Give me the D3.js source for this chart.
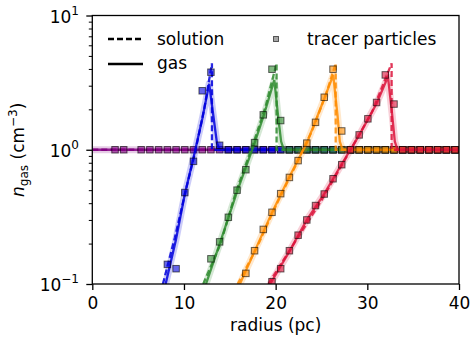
<!DOCTYPE html>
<html>
<head>
<meta charset="utf-8">
<script src="https://cdn.jsdelivr.net/npm/d3@7"></script>
<style>
  html, body { margin: 0; padding: 0; background: #fff; }
  svg { display: block; font-family: "DejaVu Sans", sans-serif; }
</style>
</head>
<body>
<svg id="chart" width="470" height="337"></svg>
<script>
// Initial radii of the tracer particles (pc)
const tracerRadius = [2.48, 3.43, 4.38, 5.33, 6.28, 7.24, 8.19, 9.14, 10.09, 11.04,
  11.99, 12.94, 13.89, 14.84, 15.79, 16.75, 17.70, 18.65, 19.60, 20.55,
  21.50, 22.45, 23.40, 24.35, 25.30, 26.26, 27.21, 28.16, 29.11, 30.06,
  31.01, 31.96, 32.91, 33.86, 34.81, 35.77, 36.72, 37.67, 38.62, 39.57];

// Tracer densities per snapshot (cm^-3), null = no particle shown
const tracerT0 = [1, 1, null, 1, 1, 1, 1, 1, 1, 1, 1, 1, 1, 1, 1, 1, 1, 1, 1, 1,
  1, 1, 1, 1, 1, 1, 1, 1, 1, 1, 1, 1, 1, 1, 1, 1, 1, 1, 1, 1];
const tracerT1 = [null, null, null, null, null, null, 0.14, 0.13, 0.48, 0.82,
  2.75, 3.78, 1.08, 1, 1, 1, 1, 1, 1, 1, 1, 1, 1, 1, 1, 1, 1, 1, 1, 1,
  1, 1, 1, 1, 1, 1, 1, 1, 1, 1];
const tracerT2 = [null, null, null, null, null, null, null, null, null, null,
  null, 0.154, 0.206, 0.314, 0.50, 0.71, 1.13, 1.82, 3.98, 1.65,
  1, 1, 1, 1, 1, 1, 1, 1, 1, 1, 1, 1, 1, 1, 1, 1, 1, 1, 1, 1];
const tracerT3 = [null, null, null, null, null, null, null, null, null, null,
  null, null, null, null, null, 0.12, 0.177, 0.255, 0.342, 0.471,
  0.622, 0.83, 1.12, 1.6, 2.46, 3.98, 1.38, 1, 1, 1, 1, 1, 1, 1, 1, 1, 1, 1, 1, 1];
const tracerT4 = [null, null, null, null, null, null, null, null, null, null,
  null, null, null, null, null, null, null, null, 0.104, 0.13,
  0.177, 0.231, 0.30, 0.384, 0.468, 0.608, 0.774, 1.0, 1.29, 1.70,
  2.25, 3.61, 2.19, 1, 1, 1, 1, 1, 1, 1];

// Analytic solution profiles [radius, density]
const solutionT0 = [[0, 1], [40, 1]];
const solutionT1 = [[7.7, 0.1], [9.0, 0.22], [10.2, 0.5], [11.2, 0.95], [12.2, 2.0], [13.05, 4.4], [13.05, 1], [40, 1]];
const solutionT2 = [[12.1, 0.1], [14.0, 0.2], [15.6, 0.47], [17.5, 1.08], [18.9, 2.1], [20.1, 4.4], [20.1, 1], [40, 1]];
const solutionT3 = [[15.86, 0.1], [18.0, 0.19], [20.0, 0.38], [22.0, 0.72], [24.0, 1.4], [25.5, 2.6], [26.55, 4.4], [26.55, 1], [40, 1]];
const solutionT4 = [[19.2, 0.1], [22.0, 0.2], [25.0, 0.42], [28.0, 0.95], [30.5, 1.9], [32.65, 4.4], [32.65, 1], [40, 1]];

// Simulated gas profiles [radius, density]
const gasT0 = [[0, 1], [40, 1]];
const gasT1 = [[8.0, 0.1], [9.1, 0.21], [10.1, 0.47], [11.0, 0.85], [12.0, 1.7], [12.75, 3.1], [13.2, 1.8], [13.6, 1.12], [13.9, 1.0], [40, 1]];
const gasT2 = [[12.4, 0.1], [13.9, 0.2], [15.8, 0.49], [17.7, 1.12], [18.7, 1.8], [19.85, 3.3], [20.3, 1.7], [20.6, 1.15], [20.9, 1.0], [40, 1]];
const gasT3 = [[16.1, 0.1], [17.7, 0.175], [19.6, 0.34], [21.5, 0.63], [23.4, 1.12], [25.3, 2.4], [26.28, 3.6], [26.75, 1.8], [27.0, 1.15], [27.3, 1.0], [40, 1]];
const gasT4 = [[19.4, 0.1], [21.5, 0.175], [23.4, 0.30], [25.3, 0.47], [27.15, 0.77], [29.1, 1.28], [31.0, 2.2], [32.25, 3.5], [32.7, 1.85], [33.0, 1.15], [33.3, 1.0], [40, 1]];

const seriesColors = ["#800080", "#0000dd", "#2e8b2e", "#ff8c00", "#dc143c"];
const xTicks = [0, 10, 20, 30, 40];
const yTicks = [0.1, 1, 10];
const yTickExponents = ["\u22121", "0", "1"];
const yMinorTicks = [0.2, 0.3, 0.4, 0.5, 0.6, 0.7, 0.8, 0.9, 2, 3, 4, 5, 6, 7, 8, 9];
const legendLabels = ["solution", "gas", "tracer particles"];
const xLabel = "radius (pc)";

const solutions = [solutionT0, solutionT1, solutionT2, solutionT3, solutionT4];
const gases = [gasT0, gasT1, gasT2, gasT3, gasT4];
const tracers = [tracerT0, tracerT1, tracerT2, tracerT3, tracerT4];

const svg = d3.select("#chart");
const plotLeft = 92.3, plotRight = 459, plotTop = 15.5, plotBottom = 284;
const fontSize = 17;
const supSize = 12;
const dash = "6,3";

const x = d3.scaleLinear().domain([0, 40]).range([plotLeft, plotRight]);
const y = d3.scaleLog().domain([0.1, 10]).range([plotBottom, plotTop]);

svg.append("defs").append("clipPath").attr("id", "plotClip")
  .append("rect").attr("x", plotLeft).attr("y", plotTop)
  .attr("width", plotRight - plotLeft).attr("height", plotBottom - plotTop);

const plot = svg.append("g").attr("clip-path", "url(#plotClip)");
const line = d3.line().x(d => x(d[0])).y(d => y(d[1]));

seriesColors.forEach((color, i) => {
  const g = plot.append("g");
  // uncertainty band around the gas profile
  g.append("path").attr("d", line(gases[i]))
    .attr("fill", "none").attr("stroke", color)
    .attr("stroke-width", 7).attr("stroke-opacity", 0.2)
    .attr("stroke-linejoin", "round");
  g.append("path").attr("d", line(gases[i]))
    .attr("fill", "none").attr("stroke", color)
    .attr("stroke-width", 2.3).attr("stroke-opacity", 0.85);
  g.append("path").attr("d", line(solutions[i]))
    .attr("fill", "none").attr("stroke", color)
    .attr("stroke-width", 2.3).attr("stroke-opacity", 0.85)
    .attr("stroke-dasharray", dash);
  const pts = tracerRadius.map((r, k) => [r, tracers[i][k]]).filter(d => d[1] !== null);
  const s = 6.5;
  g.selectAll("rect.tracer").data(pts).join("rect")
    .attr("class", "tracer")
    .attr("x", d => x(d[0]) - s / 2).attr("y", d => y(d[1]) - s / 2)
    .attr("width", s).attr("height", s)
    .attr("fill", color).attr("fill-opacity", 0.6)
    .attr("stroke", "#000").attr("stroke-opacity", 0.6).attr("stroke-width", 1);
});

// Axes
const xAxis = svg.append("g").attr("transform", `translate(0,${plotBottom})`)
  .call(d3.axisBottom(x).tickValues(xTicks).tickSize(6).tickPadding(7).tickFormat(d3.format("d")));
xAxis.select(".domain").remove();
xAxis.selectAll("line").attr("stroke", "#000").attr("stroke-width", 1.3);
xAxis.selectAll("text").attr("font-size", fontSize).attr("fill", "#000")
  .attr("font-family", "DejaVu Sans, sans-serif");

const yAxis = svg.append("g").attr("transform", `translate(${plotLeft},0)`)
  .call(d3.axisLeft(y).tickValues(yTicks).tickSize(6).tickFormat(""));
yAxis.select(".domain").remove();
yAxis.selectAll("line").attr("stroke", "#000").attr("stroke-width", 1.3);

const yMinor = svg.append("g").attr("transform", `translate(${plotLeft},0)`)
  .call(d3.axisLeft(y).tickValues(yMinorTicks).tickSize(3.5).tickFormat(""));
yMinor.select(".domain").remove();
yMinor.selectAll("line").attr("stroke", "#000").attr("stroke-width", 1);

yTicks.forEach((v, i) => {
  const t = svg.append("text").attr("x", 79).attr("y", y(v) + 7)
    .attr("text-anchor", "end").attr("font-size", fontSize).attr("fill", "#000");
  t.append("tspan").text("10");
  t.append("tspan").attr("dy", -8).attr("font-size", supSize).text(yTickExponents[i]);
});

// frame
svg.append("rect").attr("x", plotLeft).attr("y", plotTop)
  .attr("width", plotRight - plotLeft).attr("height", plotBottom - plotTop)
  .attr("fill", "none").attr("stroke", "#000").attr("stroke-width", 1.3);

// axis labels
svg.append("text").attr("x", (plotLeft + plotRight) / 2).attr("y", 331)
  .attr("text-anchor", "middle").attr("font-size", fontSize).attr("fill", "#000")
  .text(xLabel);

const yl = svg.append("text")
  .attr("transform", `translate(24,${(plotTop + plotBottom) / 2}) rotate(-90)`)
  .attr("text-anchor", "middle").attr("font-size", fontSize).attr("fill", "#000");
yl.append("tspan").attr("font-style", "italic").text("n");
yl.append("tspan").attr("dy", 3.5).attr("font-size", supSize).text("gas");
yl.append("tspan").attr("dy", -3.5).text(" (cm");
yl.append("tspan").attr("dy", -7).attr("font-size", supSize).text("\u22123");
yl.append("tspan").attr("dy", 7).text(")");

// Legend
const lg = svg.append("g");
const rowY = [39, 64];
lg.append("line").attr("x1", 108).attr("x2", 143).attr("y1", rowY[0]).attr("y2", rowY[0])
  .attr("stroke", "#000").attr("stroke-width", 2.3).attr("stroke-dasharray", dash);
lg.append("line").attr("x1", 108).attr("x2", 143).attr("y1", rowY[1]).attr("y2", rowY[1])
  .attr("stroke", "#000").attr("stroke-width", 2.3);
lg.append("text").attr("x", 157).attr("y", rowY[0] + 6).attr("font-size", fontSize).text(legendLabels[0]);
lg.append("text").attr("x", 157).attr("y", rowY[1] + 4.5).attr("font-size", fontSize).text(legendLabels[1]);
lg.append("rect").attr("x", 276 - 2.5).attr("y", rowY[0] - 2.5).attr("width", 5).attr("height", 5)
  .attr("fill", "#808080").attr("fill-opacity", 0.7)
  .attr("stroke", "#000").attr("stroke-opacity", 0.6).attr("stroke-width", 1);
lg.append("text").attr("x", 307).attr("y", rowY[0] + 6).attr("font-size", fontSize).text(legendLabels[2]);
</script>
</body>
</html>
